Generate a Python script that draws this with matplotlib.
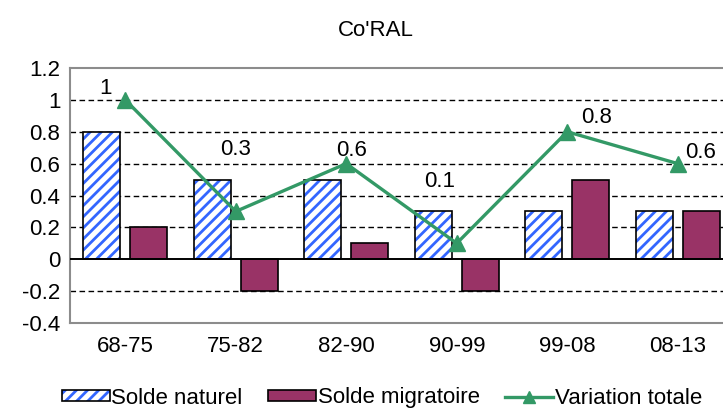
import matplotlib.pyplot as plt
import matplotlib.patches as mpatches
from matplotlib.legend_handler import HandlerTuple
import numpy as np

plt.rcParams['font.family'] = ['Liberation Sans', 'DejaVu Sans']
plt.rcParams['hatch.linewidth'] = 2.0

periods = ['68-75', '75-82', '82-90', '90-99', '99-08', '08-13']
solde_naturel = [0.8, 0.5, 0.5, 0.3, 0.3, 0.3]
solde_migratoire = [0.2, -0.2, 0.1, -0.2, 0.5, 0.3]
variation_totale = [1, 0.3, 0.6, 0.1, 0.8, 0.6]
label_text = ['1', '0.3', '0.6', '0.1', '0.8', '0.6']
# label offsets in pixels (dx, dy) as placed in the original chart
label_offsets = [(-20, 11), (0, 62), (5, 13), (-17, 62), (29, 14), (23, 11)]

blue = '#3366ff'
purple = '#993366'
green = '#339966'
fs = 16

fig = plt.figure(figsize=(7.23, 4.08), dpi=100)
ax = fig.add_axes([70 / 723, 85 / 408, 663 / 723, 255 / 408])

x = np.arange(len(periods))
w = 0.335
off = 0.212

# hatched blue bars, then black outline on top
ax.bar(x - off, solde_naturel, w, facecolor='white', edgecolor=blue,
       hatch='///', linewidth=0, zorder=3)
ax.bar(x - off, solde_naturel, w, fill=False, edgecolor='black',
       linewidth=1.2, zorder=4)
ax.bar(x + off, solde_migratoire, w, color=purple, edgecolor='black',
       linewidth=1.2, zorder=3)
ax.plot(x, variation_totale, color=green, lw=2.4, marker='^',
        markersize=11, zorder=5)

for xi, yi, t, (dx, dy) in zip(x, variation_totale, label_text, label_offsets):
    ax.annotate(t, (xi, yi), xytext=(dx * 0.72, dy * 0.72),
                textcoords='offset points', ha='center', va='center',
                fontsize=fs, zorder=6)

ax.set_xlim(-0.5, len(periods) - 0.5)
ax.set_ylim(-0.4, 1.2)
ax.set_yticks(np.arange(-0.4, 1.21, 0.2))
ax.set_yticklabels(['-0.4', '-0.2', '0', '0.2', '0.4', '0.6', '0.8', '1', '1.2'])
ax.set_xticks(x)
ax.set_xticklabels(periods)
ax.tick_params(length=0, labelsize=fs)
ax.tick_params(axis='y', pad=7)
ax.tick_params(axis='x', pad=9)

for yv in [-0.2, 0.2, 0.4, 0.6, 0.8, 1.0]:
    ax.axhline(yv, color='black', lw=1.0, ls=(0, (4, 2.5)), zorder=1)
ax.axhline(0, color='black', lw=1.4, zorder=4)

for s in ax.spines.values():
    s.set_color('#8c8c8c')
    s.set_linewidth(1.5)

fig.text(376 / 723, 1 - 30 / 408, "Co'RAL", ha='center', va='center', fontsize=fs)

# legend handles
h_nat = (mpatches.Patch(facecolor='white', edgecolor=blue, hatch='///', lw=0),
         mpatches.Patch(fill=False, edgecolor='black', lw=1.2))
h_mig = mpatches.Patch(facecolor=purple, edgecolor='black', lw=1.2)
h_var = plt.Line2D([], [], color=green, lw=2.4, marker='^', markersize=9)

fig.legend([h_nat, h_mig, h_var],
           ['Solde naturel', 'Solde migratoire', 'Variation totale'],
           handler_map={tuple: HandlerTuple(ndivide=1)},
           loc='center', bbox_to_anchor=(382 / 723, 1 - 398 / 408), ncol=3,
           frameon=False, fontsize=fs, handlelength=2.15, handletextpad=0.08,
           columnspacing=1.15, borderaxespad=0, handleheight=0.4)

fig.savefig('out.png', dpi=100)
